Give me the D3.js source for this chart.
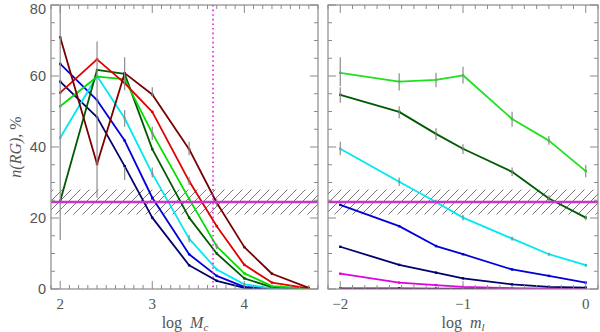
<!DOCTYPE html>
<html><head><meta charset="utf-8">
<script src="https://cdn.jsdelivr.net/npm/d3@7"></script>
<style>body{margin:0;background:#fff}svg{display:block}</style>
</head><body>
<svg id="c" width="600" height="332"></svg>
<script>
// ---------- data ----------
const yTicks = [0, 20, 40, 60, 80];
const leftXTicks = [2, 3, 4];
const rightXTicks = [-2, -1, 0];
const leftX = [2, 2.4, 2.7, 3, 3.4, 3.7, 4, 4.3, 4.7];
const leftMaroon = [70.9, 35.2, 60.8, 54.8, 39.4, 24.3, 11.8, 4.3, 0.3];
const leftRed    = [55.3, 64.7, 58.0, 49.9, 30.4, 17.7, 6.8, 1.8, 0.2];
const leftGreen  = [51.5, 59.8, 59.1, 43.9, 25.4, 12.0, 4.4, 0.8, 0.1];
const leftDkGreen= [24.8, 61.7, 60.6, 39.4, 20.1, 10.0, 3.0, 0.5, 0.1];
const leftCyan   = [42.6, 60.0, 48.1, 32.5, 14.2, 5.5, 1.3, 0.2, 0.0];
const leftBlue   = [63.4, 53.2, 41.8, 25.7, 9.8, 3.7, 0.6, 0.1, 0.0];
const leftNavy   = [58.4, 48.4, 34.6, 20.1, 6.7, 2.3, 0.3, 0.0, 0.0];
const leftErr = [[2,13.8,80],[2.4,25.7,69.7],[2.7,56,65.3],[2.7,45.7,50.4],[2.7,30.7,34.4],
  [3,54.2,56.8],[3,42,45.7],[3,31.4,34.2],[3.4,37.7,41.5],[3.4,29.3,31.6],[3.4,13.2,15.3],
  [3.7,23.2,25.4],[3.7,11.2,12.8]];
const rightX = [-2, -1.52, -1.22, -1, -0.6, -0.3, 0];
const rightGreen  = [60.9, 58.4, 58.9, 60.2, 47.9, 41.8, 33.2];
const rightDkGreen= [54.7, 49.9, 43.7, 39.5, 33.0, 25.5, 20.1];
const rightCyan   = [39.5, 30.2, 24.5, 20.1, 14.2, 9.8, 6.7];
const rightBlue   = [23.7, 17.7, 12.1, 9.8, 5.5, 3.7, 1.8];
const rightNavy   = [11.9, 6.8, 4.6, 3.0, 1.3, 0.6, 0.4];
const rightMagenta= [4.3, 1.8, 1.1, 0.6, 0.2, 0.1, 0.1];
const rightPurple = [0.2, 0.2, 0.1, 0.1, 0.1, 0.0, 0.0];
const rightErr = [[-2,57.2,65.3],[-1.52,55.9,60.8],[-1.22,56.8,60.9],[-1,57.9,62.6],[-0.6,45.7,49.9],[-0.3,40.6,43.1],[0,31.5,35],
  [-2,52.5,56.8],[-1.52,48.1,51.5],[-1.22,42,45.3],[-1,38,40.8],[-0.6,31.8,34.2],[-0.3,24.6,26.4],[0,19.4,20.8],
  [-2,37.7,41.5],[-1.52,29,31.4],[-1.22,23.8,25.2],[-1,19.3,20.9],[-0.6,13.6,14.8],[-0.3,9.4,10.2],[0,6.3,7.1]];
const refLevel = 24.5, bandLo = 21, bandHi = 28, vLine = 3.66;

// ---------- drawing ----------
const svg = d3.select("#c");
const frameCol = "#8a8a8a", textCol = "#555";
const y = d3.scaleLinear().domain([0, 80]).range([289, 5]);
const xL = d3.scaleLinear().domain([1.9, 4.8]).range([51, 318]);
const xR = d3.scaleLinear().domain([-2.1, 0.1]).range([328, 598]);

const defs = svg.append("defs");
const pat = defs.append("pattern").attr("id","hatch").attr("patternUnits","userSpaceOnUse")
  .attr("width",9).attr("height",9);
pat.append("path").attr("d","M-1,10 L10,-1 M-2,2 L2,-2 M7,11 L11,7").attr("stroke","#555").attr("stroke-width",0.8);

function panel(x, series, errs, xTicks, showY, id, dotted) {
  const [x0, x1] = x.range();
  defs.append("clipPath").attr("id", id).append("rect")
    .attr("x", x0).attr("y", y(80)).attr("width", x1 - x0).attr("height", y(0) - y(80));
  const g = svg.append("g");
  const inner = g.append("g").attr("clip-path", `url(#${id})`);
  // hatched band
  inner.append("rect").attr("x", x0).attr("width", x1 - x0)
    .attr("y", y(bandHi)).attr("height", y(bandLo) - y(bandHi)).attr("fill", "url(#hatch)");
  const line = d3.line().x(d => x(d[0])).y(d => y(d[1]));
  series.forEach(s => {
    const pts = s.xs.map((v, i) => [v, s.v[i]]);
    inner.append("path").datum(pts).attr("d", line).attr("fill","none")
      .attr("stroke", s.c).attr("stroke-width", 1.8).attr("stroke-linejoin","round");
    inner.selectAll(null).data(pts).enter().append("rect")
      .attr("x", d => x(d[0]) - 1.2).attr("y", d => y(d[1]) - 1.2).attr("width", 2.4).attr("height", 2.4)
      .attr("fill", s.c);
  });
  inner.selectAll(null).data(errs).enter().append("line")
    .attr("x1", d => x(d[0])).attr("x2", d => x(d[0]))
    .attr("y1", d => y(d[1])).attr("y2", d => y(d[2]))
    .attr("stroke", "#8c8c8c").attr("stroke-width", 1.2);
  inner.append("line").attr("x1", x0).attr("x2", x1).attr("y1", y(refLevel)).attr("y2", y(refLevel))
    .attr("stroke", "#cc33cc").attr("stroke-width", 2.6);
  if (dotted !== undefined) {
    inner.append("line").attr("x1", x(dotted)).attr("x2", x(dotted)).attr("y1", y(80)).attr("y2", y(0))
      .attr("stroke", "#e020e0").attr("stroke-width", 1.6).attr("stroke-dasharray", "1.6,3");
  }
  // frame
  g.append("rect").attr("x", x0).attr("y", y(80)).attr("width", x1 - x0).attr("height", y(0) - y(80))
    .attr("fill","none").attr("stroke", frameCol).attr("stroke-width", 1.2);
  // ticks
  const d = x.domain();
  const minorX = d3.range(Math.ceil(d[0]*10), Math.floor(d[1]*10) + 1).map(v => v / 10);
  const tg = g.append("g").attr("stroke", frameCol).attr("stroke-width", 1);
  minorX.forEach(v => {
    const major = xTicks.some(t => Math.abs(t - v) < 1e-6);
    const L = major ? 8 : 4;
    tg.append("line").attr("x1", x(v)).attr("x2", x(v)).attr("y1", y(0)).attr("y2", y(0) - L);
    tg.append("line").attr("x1", x(v)).attr("x2", x(v)).attr("y1", y(80)).attr("y2", y(80) + L);
  });
  d3.range(0, 81, 5).forEach(v => {
    const major = v % 20 === 0;
    const L = major ? 8 : 4;
    tg.append("line").attr("x1", x0).attr("x2", x0 + L).attr("y1", y(v)).attr("y2", y(v));
    tg.append("line").attr("x1", x1).attr("x2", x1 - L).attr("y1", y(v)).attr("y2", y(v));
  });
  // tick labels
  g.selectAll(null).data(xTicks).enter().append("text")
    .attr("x", v => x(v)).attr("y", 309).attr("text-anchor","middle")
    .attr("font-family","Liberation Serif, serif").attr("font-size", 15).attr("fill", textCol)
    .text(v => v < 0 ? "\u2212" + Math.abs(v) : v);
  if (showY) {
    g.selectAll(null).data(yTicks).enter().append("text")
      .attr("x", 46).attr("y", v => Math.max(y(v) + 5, 14)).attr("text-anchor","end")
      .attr("font-family","Liberation Sans, sans-serif").attr("font-size", 14.5).attr("fill", textCol)
      .text(v => v);
  }
}

const mk = (xs, v, c) => ({xs, v, c});
panel(xL, [
  mk(leftX, leftNavy, "#00006e"), mk(leftX, leftBlue, "#0000d8"), mk(leftX, leftCyan, "#00e8f0"),
  mk(leftX, leftDkGreen, "#005a00"), mk(leftX, leftGreen, "#00e000"), mk(leftX, leftRed, "#e00000"),
  mk(leftX, leftMaroon, "#7a0000")
], leftErr, leftXTicks, true, "clipL", vLine);

panel(xR, [
  mk(rightX, rightPurple, "#50005a"), mk(rightX, rightMagenta, "#e000e0"), mk(rightX, rightNavy, "#00006e"),
  mk(rightX, rightBlue, "#0000d8"), mk(rightX, rightCyan, "#00e8f0"), mk(rightX, rightDkGreen, "#005a00"),
  mk(rightX, rightGreen, "#20e020")
], rightErr, rightXTicks, false, "clipR");

// axis titles
const tt = svg.append("text").attr("x", 185).attr("y", 328).attr("text-anchor","middle")
  .attr("font-family","Liberation Serif, serif").attr("font-size", 16).attr("fill", textCol);
tt.append("tspan").text("log ");
tt.append("tspan").attr("font-style","italic").attr("dx", 4).text("M");
tt.append("tspan").attr("font-style","italic").attr("font-size", 11).attr("dy", 3).text("c");
const tr = svg.append("text").attr("x", 463).attr("y", 328).attr("text-anchor","middle")
  .attr("font-family","Liberation Serif, serif").attr("font-size", 16).attr("fill", textCol);
tr.append("tspan").text("log ");
tr.append("tspan").attr("font-style","italic").attr("dx", 4).text("m");
tr.append("tspan").attr("font-style","italic").attr("font-size", 11).attr("dy", 3).text("l");
const ty = svg.append("text").attr("transform","translate(21,147) rotate(-90)").attr("text-anchor","middle")
  .attr("font-family","Liberation Serif, serif").attr("font-size", 16).attr("fill", textCol);
ty.append("tspan").attr("font-style","italic").text("n(RG)");
ty.append("tspan").text(", %");
</script>
</body></html>
